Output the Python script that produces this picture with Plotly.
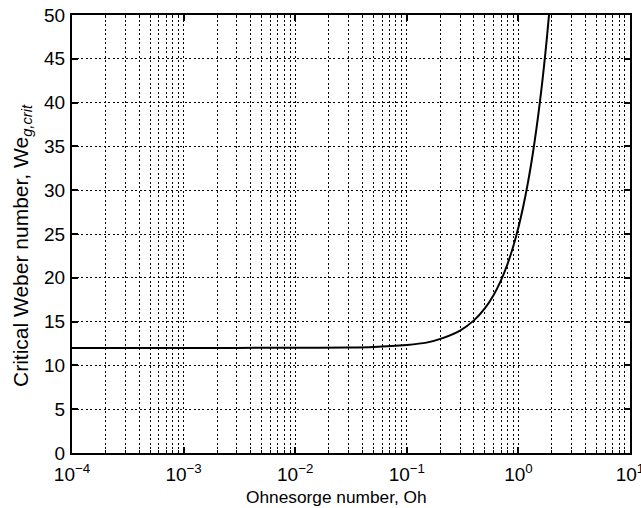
import plotly.graph_objects as go

oh = [1e-4, 3e-4, 1e-3, 3e-3, 1e-2, 0.03, 0.05, 0.1, 0.15, 0.2, 0.3, 0.4, 0.5, 0.6, 0.7, 0.8, 0.9, 1.0, 1.1, 1.2, 1.3, 1.4, 1.5, 1.6, 1.7, 1.8, 1.9]
we = [12.0, 12.0, 12.0, 12.0, 12.01, 12.05, 12.11, 12.34, 12.6, 13.03, 13.98, 15.14, 16.5, 18.04, 19.74, 21.59, 23.6, 25.74, 28.02, 30.43, 32.96, 35.62, 38.39, 41.28, 44.28, 47.4, 50.62]

x_tickvals = [1e-4, 1e-3, 1e-2, 1e-1, 1e0, 1e1]
x_ticktext = ["10<sup>−4</sup>", "10<sup>−3</sup>", "10<sup>−2</sup>", "10<sup>−1</sup>", "10<sup>0</sup>", "10<sup>1</sup>"]
y_tickvals = list(range(0, 55, 5))

x_title = "Ohnesorge number, Oh"
y_title = "Critical Weber number, We<sub><i>g,crit</i></sub>"

font = "Liberation Sans, Arial, sans-serif"
dash = "2px,2.5px"

fig = go.Figure()
fig.add_trace(go.Scatter(x=oh, y=we, mode="lines", line=dict(color="black", width=2, shape="spline", smoothing=0.8),
                         showlegend=False, cliponaxis=True, hoverinfo="skip"))

fig.update_layout(
    width=641, height=508,
    margin=dict(l=72, r=11, t=15, b=55),
    paper_bgcolor="white", plot_bgcolor="white",
    font=dict(family=font, color="black", size=16),
    xaxis=dict(
        type="log", range=[-4, 1], automargin=False,
        tickmode="array", tickvals=x_tickvals, ticktext=x_ticktext,
        ticklabeloverflow="allow", ticklabelstandoff=3,
        showgrid=True, gridcolor="black", griddash=dash, gridwidth=1.3,
        ticks="inside", ticklen=6, tickwidth=1.5, tickcolor="black",
        showline=True, linecolor="black", linewidth=2, mirror="allticks",
        zeroline=False,
        minor=dict(dtick="D1", showgrid=True, gridcolor="black", griddash=dash, gridwidth=1.3,
                   ticks="inside", ticklen=3, tickcolor="black", tickwidth=1),
        tickfont=dict(size=19),
    ),
    yaxis=dict(
        range=[0, 50], tickvals=y_tickvals, automargin=False,
        ticklabeloverflow="allow", ticklabelstandoff=1,
        showgrid=True, gridcolor="black", griddash=dash, gridwidth=1.3,
        ticks="inside", ticklen=6, tickwidth=1.5, tickcolor="black",
        showline=True, linecolor="black", linewidth=2, mirror="allticks",
        zeroline=False,
        tickfont=dict(size=19),
    ),
    annotations=[
        dict(text=x_title, xref="paper", yref="paper", x=(336 - 72) / 558, y=(453 - 497) / 438,
             xanchor="center", yanchor="middle", showarrow=False, font=dict(size=17.3)),
        dict(text=y_title, xref="paper", yref="paper", x=(22 - 72) / 558, y=(453 - 246) / 438,
             xanchor="center", yanchor="middle", showarrow=False, textangle=-90, font=dict(size=21)),
    ],
)

fig.write_html("out.html", config={"displayModeBar": False},
               post_script="document.body.style.margin='0';document.body.style.overflow='hidden';")
